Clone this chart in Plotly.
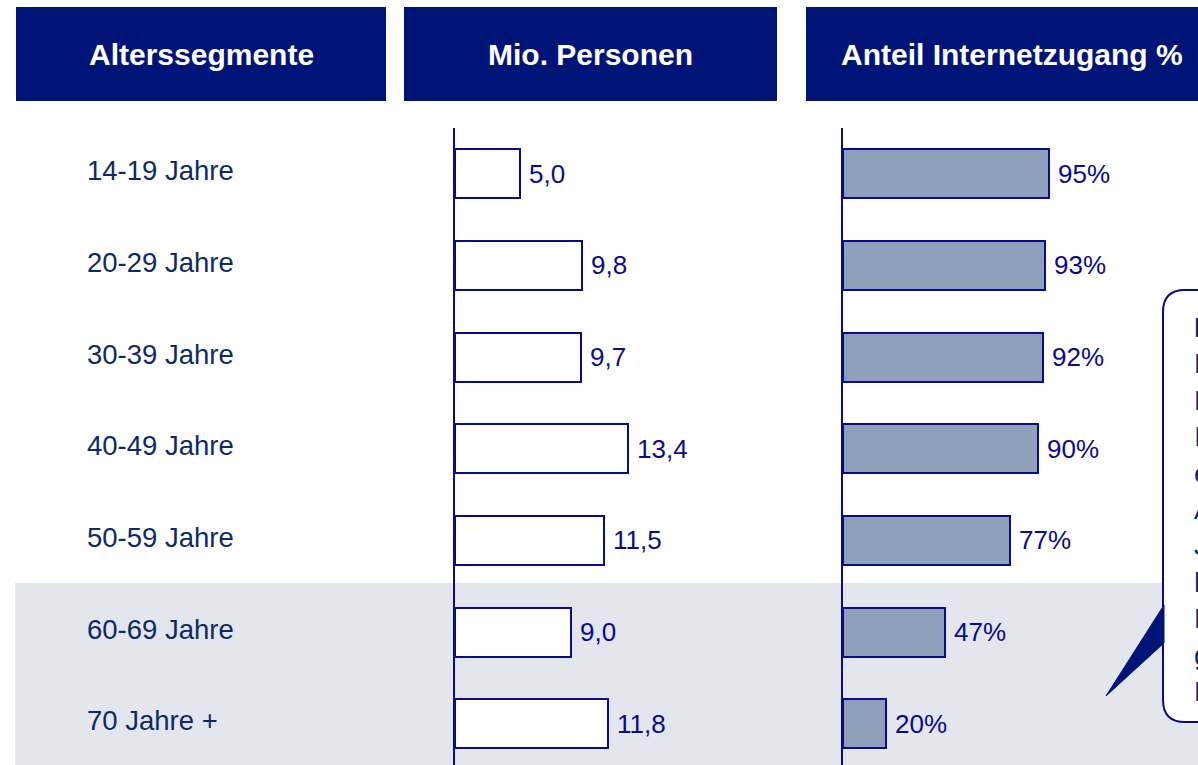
import plotly.graph_objects as go

# ---- data ----
categories = ["14-19 Jahre", "20-29 Jahre", "30-39 Jahre", "40-49 Jahre",
              "50-59 Jahre", "60-69 Jahre", "70 Jahre +"]
persons_mio = [5.0, 9.8, 9.7, 13.4, 11.5, 9.0, 11.8]
internet_pct = [95, 93, 92, 90, 77, 47, 20]
headers = ["Alterssegmente", "Mio. Personen", "Anteil Internetzugang %"]
callout_lines = ["<b>Interpretation:</b>", "Der Anteil der", "Personen mit",
                 "Internetzugang", "ebbt ab einem", "Alter von 60",
                 "Jahren stark ab;", "hier liegt das", "Potenzial für",
                 "gezielte", "Erschließung."]

W, H = 1198, 765
NAVY = "#001478"
LINE = "#0A0A8C"
LABEL = "#0D2A66"
FONT = "Liberation Sans, Arial, sans-serif"


def px(x):
    return x / W


def py(y):
    return 1 - y / H


fig = go.Figure()
fig.add_trace(go.Bar(
    y=categories, x=persons_mio, orientation="h", width=0.535,
    marker=dict(color="white", line=dict(color=LINE, width=2)),
    xaxis="x", yaxis="y", hoverinfo="skip"))
fig.add_trace(go.Bar(
    y=categories, x=internet_pct, orientation="h", width=0.535,
    marker=dict(color="#8E9FBA", line=dict(color=LINE, width=2)),
    xaxis="x2", yaxis="y2", hoverinfo="skip"))

shapes = []
annotations = []

# gray band behind last two rows
shapes.append(dict(type="rect", xref="paper", yref="paper",
                   x0=px(15), x1=px(1250), y0=py(583), y1=py(800),
                   fillcolor="#E3E6EC", line=dict(width=0), layer="below"))

# header boxes
header_boxes = [(16, 386), (404, 777), (806, 1217)]
for (x0, x1), txt in zip(header_boxes, headers):
    shapes.append(dict(type="rect", xref="paper", yref="paper",
                       x0=px(x0), x1=px(x1), y0=py(101), y1=py(7),
                       fillcolor=NAVY, line=dict(width=0), layer="below"))
    annotations.append(dict(x=px((x0 + x1) / 2), y=py(55), xref="paper", yref="paper",
                            text=f"<b>{txt}</b>", showarrow=False,
                            xanchor="center", yanchor="middle",
                            font=dict(family=FONT, size=30, color="white")))

# row labels
for c in categories:
    annotations.append(dict(x=px(85), y=c, xref="paper", yref="y", text=c,
                            showarrow=False, xanchor="left", yanchor="middle",
                            yshift=3,
                            font=dict(family=FONT, size=27.5, color=LABEL)))

# value labels
for c, v in zip(categories, persons_mio):
    annotations.append(dict(x=v, y=c, xref="x", yref="y",
                            text=f"{v:.1f}".replace(".", ","),
                            showarrow=False, xanchor="left", yanchor="middle",
                            xshift=7,
                            font=dict(family=FONT, size=26, color=LINE)))
for c, v in zip(categories, internet_pct):
    annotations.append(dict(x=v, y=c, xref="x2", yref="y2", text=f"{v}%",
                            showarrow=False, xanchor="left", yanchor="middle",
                            xshift=7,
                            font=dict(family=FONT, size=26, color=LINE)))

# callout box with pointer
bx0, by0, by1, bx1, r = 1163, 290, 722, 1400, 22
path = (f"M {px(bx1)},{py(by0)} L {px(bx0 + r)},{py(by0)} "
        f"Q {px(bx0)},{py(by0)} {px(bx0)},{py(by0 + r)} "
        f"L {px(bx0)},{py(by1 - r)} "
        f"Q {px(bx0)},{py(by1)} {px(bx0 + r)},{py(by1)} "
        f"L {px(bx1)},{py(by1)} Z")
shapes.append(dict(type="path", xref="paper", yref="paper", path=path,
                   fillcolor="white", line=dict(color=LINE, width=2), layer="above"))
tri = (f"M {px(1106)},{py(696)} L {px(1164)},{py(605)} "
       f"L {px(1164)},{py(643)} Z")
shapes.append(dict(type="path", xref="paper", yref="paper", path=tri,
                   fillcolor=NAVY, line=dict(color=NAVY, width=1), layer="above"))
annotations.append(dict(x=px(1192), y=py(509), xref="paper", yref="paper",
                        text="<br>".join(callout_lines), showarrow=False,
                        xanchor="left", yanchor="middle", align="left",
                        font=dict(family=FONT, size=28, color=LABEL)))

ydom = [0, 637 / H]
yrange = [6.45, -0.5]
x1_end = 780
x2_end = 1198
fig.update_layout(
    width=W, height=H, margin=dict(l=0, r=0, t=0, b=0),
    paper_bgcolor="white", plot_bgcolor="rgba(0,0,0,0)",
    showlegend=False, bargap=0,
    xaxis=dict(domain=[px(455), px(x1_end)], range=[0, (x1_end - 455) / 12.94],
               visible=False, fixedrange=True),
    xaxis2=dict(domain=[px(843), px(x2_end)], range=[0, (x2_end - 843) / 2.17],
                visible=False, fixedrange=True, anchor="y2"),
    yaxis=dict(domain=ydom, type="category", categoryorder="array",
               categoryarray=categories, range=yrange, autorange=False,
               showline=True, linecolor=LINE, linewidth=2,
               showticklabels=False, showgrid=False, zeroline=False,
               ticks="", anchor="x"),
    yaxis2=dict(domain=ydom, type="category", categoryorder="array",
                categoryarray=categories, range=yrange, autorange=False,
                showline=True, linecolor=LINE, linewidth=2,
                showticklabels=False, showgrid=False, zeroline=False,
                ticks="", anchor="x2"),
    shapes=shapes, annotations=annotations,
)

fig.write_html(
    "out.html",
    config={"displayModeBar": False},
    post_script="document.body.style.margin='0';document.body.style.overflow='hidden';",
)
